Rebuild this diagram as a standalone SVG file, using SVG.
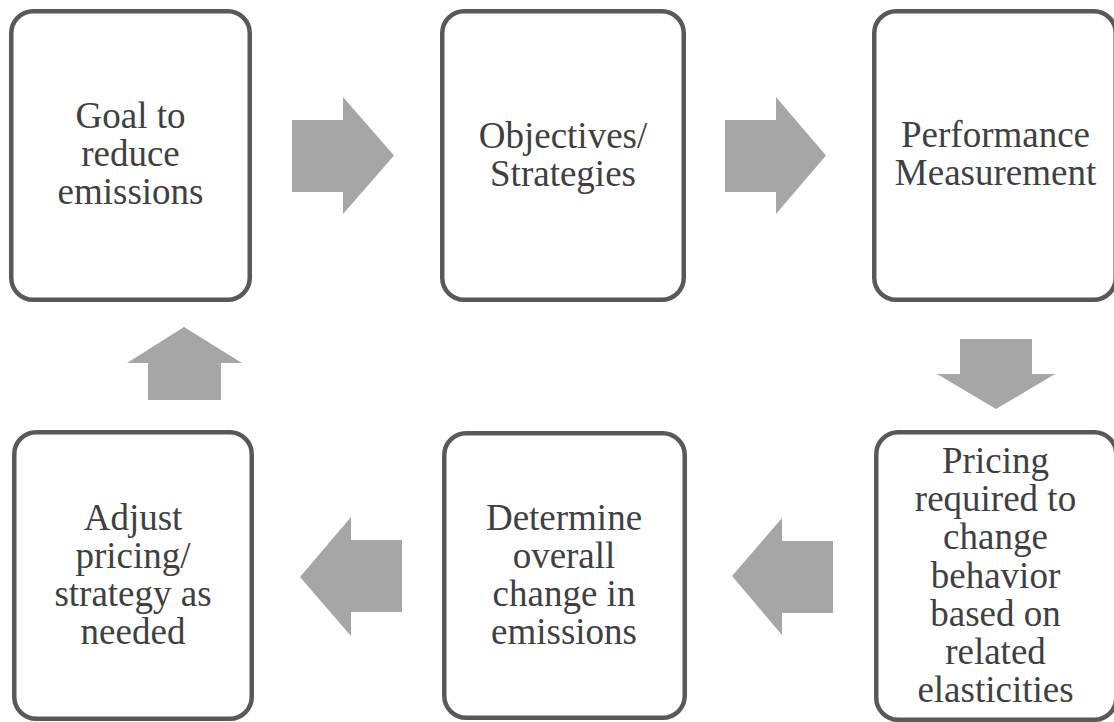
<svg xmlns="http://www.w3.org/2000/svg" width="1114" height="722" viewBox="0 0 1114 722">
<style>
.box{fill:#ffffff;stroke:#595959;stroke-width:4.5}
.lbl{font-family:"Liberation Serif","Times New Roman",serif;font-size:37px;fill:#404040;text-anchor:middle}
.arr{fill:#a6a6a6;stroke:none}
</style>
<rect width="1114" height="722" fill="#ffffff"/>
<g id="connectors">
<polygon class="arr" points="292,120 343,120 343,97 394,155.5 343,214 343,192 292,192"/>
<polygon class="arr" points="725,120 776,120 776,97 826,155.5 776,214 776,192 725,192"/>
<polygon class="arr" points="960,339 1032,339 1032,374 1055,374 996,409 937,374 960,374"/>
<polygon class="arr" points="833,541 782,541 782,518 732,576 782,635 782,613 833,613"/>
<polygon class="arr" points="402,540 351,540 351,517 300,577 351,636 351,612 402,612"/>
<polygon class="arr" points="148,400 148,363 127,363 184,327 242,363 221,363 221,400"/>
</g>
<g id="node-goal">
<rect class="box" x="11.25" y="11.25" width="238.5" height="288.5" rx="22"/>
<text class="lbl"><tspan x="130.5" y="128">Goal to</tspan><tspan x="130.5" y="166">reduce</tspan><tspan x="130.5" y="204">emissions</tspan></text>
</g>
<g id="node-objectives">
<rect class="box" x="442.25" y="11.25" width="241.5" height="288.5" rx="22"/>
<text class="lbl"><tspan x="563" y="148">Objectives/</tspan><tspan x="563" y="186">Strategies</tspan></text>
</g>
<g id="node-performance">
<rect class="box" x="874.25" y="11.25" width="241.5" height="288.5" rx="22"/>
<text class="lbl"><tspan x="995.5" y="147">Performance</tspan><tspan x="995.5" y="185">Measurement</tspan></text>
</g>
<g id="node-pricing">
<rect class="box" x="876.25" y="432.25" width="240" height="287.5" rx="22"/>
<text class="lbl"><tspan x="995.5" y="473">Pricing</tspan><tspan x="995.5" y="511">required to</tspan><tspan x="995.5" y="549">change</tspan><tspan x="995.5" y="588">behavior</tspan><tspan x="995.5" y="626">based on</tspan><tspan x="995.5" y="664">related</tspan><tspan x="995.5" y="702">elasticities</tspan></text>
</g>
<g id="node-determine">
<rect class="box" x="444.25" y="433.25" width="240.5" height="284.5" rx="22"/>
<text class="lbl"><tspan x="564" y="530">Determine</tspan><tspan x="564" y="568">overall</tspan><tspan x="564" y="606">change in</tspan><tspan x="564" y="644">emissions</tspan></text>
</g>
<g id="node-adjust">
<rect class="box" x="14.25" y="432.25" width="237.5" height="286.5" rx="22"/>
<text class="lbl"><tspan x="133" y="530">Adjust</tspan><tspan x="133" y="568">pricing/</tspan><tspan x="133" y="606">strategy as</tspan><tspan x="133" y="644">needed</tspan></text>
</g>
</svg>
